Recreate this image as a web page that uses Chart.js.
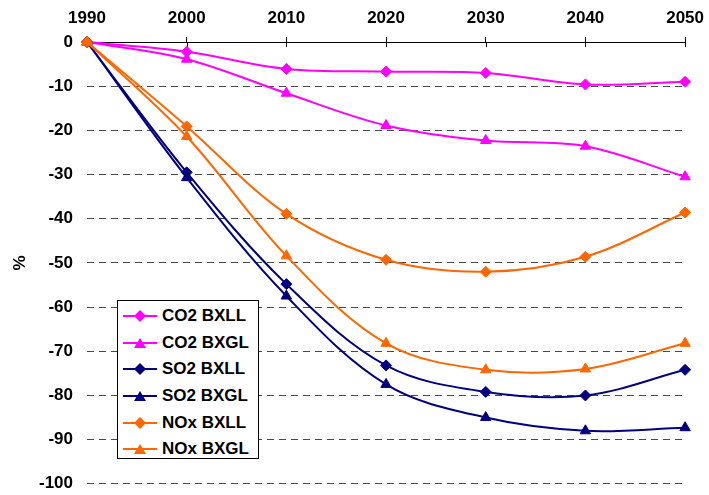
<!DOCTYPE html>
<html>
<head>
<meta charset="utf-8">
<script src="https://cdn.jsdelivr.net/npm/chart.js@4/dist/chart.umd.min.js"></script>
<style>
  html, body { margin: 0; padding: 0; background: #fff; }
  #wrap { position: relative; width: 709px; height: 495px; overflow: hidden; }
  #chart { position: absolute; left: 0; top: 0; }
  #legend {
    position: absolute; left: 117px; top: 300px; width: 142px; height: 159px;
    border: 1px solid #000; background: #fff; box-sizing: border-box;
    font: bold 17px "Liberation Sans", Arial, sans-serif; color: #000;
    padding-top: 2px;
  }
  .item { display: flex; align-items: center; height: 26.6px; }
  .item svg { margin-left: 5px; margin-right: 5px; }
</style>
</head>
<body>
<div id="wrap">
  <canvas id="chart" width="712" height="508"></canvas>
  <div id="legend"></div>
</div>
<script>
// years along the top axis
const years = ['1990', '2000', '2010', '2020', '2030', '2040', '2050'];
const yTicks = [0, -10, -20, -30, -40, -50, -60, -70, -80, -90, -100];

// change vs 1990, %
const co2Bxll = [0, -2.2, -6.1, -6.7, -7.0, -9.6, -9.0];
const co2Bxgl = [0, -3.9, -11.6, -18.9, -22.3, -23.6, -30.5];
const so2Bxll = [0, -29.5, -54.8, -73.2, -79.2, -80.0, -74.2];
const so2Bxgl = [0, -30.7, -57.5, -77.5, -85.0, -88.0, -87.3];
const noxBxll = [0, -19.1, -38.9, -49.3, -52.0, -48.6, -38.6];
const noxBxgl = [0, -21.4, -48.4, -68.2, -74.2, -74.0, -68.2];

const MAGENTA = '#ff00ff', NAVY = '#000080', ORANGE = '#ff6600';

const series = [
  { name: 'CO2 BXLL', data: co2Bxll, color: MAGENTA, shape: 'rectRot' },
  { name: 'CO2 BXGL', data: co2Bxgl, color: MAGENTA, shape: 'triangle' },
  { name: 'SO2 BXLL', data: so2Bxll, color: NAVY, shape: 'rectRot' },
  { name: 'SO2 BXGL', data: so2Bxgl, color: NAVY, shape: 'triangle' },
  { name: 'NOx BXLL', data: noxBxll, color: ORANGE, shape: 'rectRot' },
  { name: 'NOx BXGL', data: noxBxgl, color: ORANGE, shape: 'triangle' }
];

const FONT = { family: '"Liberation Sans", Arial, sans-serif', size: 17, weight: 'bold' };

const datasets = series.map((s, i) => ({
  label: s.name,
  data: s.data,
  borderColor: s.color,
  backgroundColor: s.color,
  borderWidth: 2,
  pointStyle: s.shape,
  pointRadius: s.shape === 'triangle' ? 6 : 5.5,
  pointBorderWidth: 1,
  tension: 0.35,
  clip: false,
  order: 5 - i
}));

// excel-style cross ticks: extend the top-axis tick marks a bit into the plot
const crossTicks = {
  id: 'crossTicks',
  beforeDatasetsDraw(chart) {
    const x = chart.scales.x, ctx = chart.ctx;
    ctx.save();
    ctx.strokeStyle = '#000';
    ctx.lineWidth = 1;
    ctx.beginPath();
    x.ticks.forEach((t, i) => {
      const px = Math.round(x.getPixelForTick(i)) + 0.5;
      ctx.moveTo(px, x.bottom);
      ctx.lineTo(px, x.bottom + 5);
    });
    ctx.stroke();
    ctx.restore();
  }
};

new Chart(document.getElementById('chart'), {
  type: 'line',
  data: { labels: years, datasets: datasets },
  plugins: [crossTicks],
  options: {
    responsive: false,
    animation: false,
    layout: { padding: 0 },
    plugins: { legend: { display: false }, tooltip: { enabled: false } },
    scales: {
      x: {
        position: 'top',
        offset: false,
        grid: { drawOnChartArea: false, drawTicks: true, tickLength: 5, color: '#000' },
        border: { display: true, color: '#000', width: 1 },
        ticks: { font: FONT, color: '#000', padding: 8, maxRotation: 0 },
        afterFit: (scale) => { scale.height = 42; }
      },
      y: {
        min: -100,
        max: 0,
        afterBuildTicks: (scale) => { scale.ticks = yTicks.map(v => ({ value: v })); },
        grid: {
          drawTicks: false,
          color: (ctx) => ctx.tick && ctx.tick.value === 0 ? 'rgba(0,0,0,0)' : '#4a4a4a',
          lineWidth: 1
        },
        border: { display: false, dash: [7, 5] },
        ticks: { font: FONT, color: '#000', padding: 14 },
        title: { display: true, text: '%', font: FONT, color: '#000', padding: { top: 10, bottom: 0 } },
        afterFit: (scale) => { scale.width = 87; }
      }
    }
  }
});

// legend box drawn as html, sample line + marker per series
const legend = document.getElementById('legend');
series.forEach(s => {
  const marker = s.shape === 'triangle'
    ? '<polygon points="17,2 23,12 11,12" fill="' + s.color + '"/>'
    : '<polygon points="17,1 23,7 17,13 11,7" fill="' + s.color + '"/>';
  const row = document.createElement('div');
  row.className = 'item';
  row.innerHTML = '<svg width="34" height="14"><line x1="0" y1="7" x2="34" y2="7" stroke="' +
    s.color + '" stroke-width="2"/>' + marker + '</svg><span>' + s.name + '</span>';
  legend.appendChild(row);
});
</script>
</body>
</html>
